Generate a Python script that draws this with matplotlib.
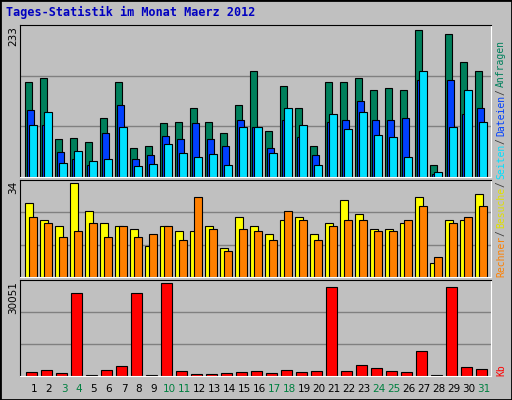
import numpy as np
import matplotlib.pyplot as plt

days = list(range(1, 32))
weekend = [3, 4, 10, 11, 17, 18, 24, 25, 31]
anfragen = [146, 151, 59, 60, 54, 91, 146, 44, 48, 83, 85, 106, 85, 68, 111, 162, 70,
            139, 106, 47, 145, 145, 151, 133, 136, 133, 226, 19, 219, 176, 163]
dateien = [102, 79, 39, 27, 19, 68, 110, 28, 33, 63, 59, 83, 59, 47, 87, 76, 45,
           87, 62, 33, 85, 88, 116, 87, 88, 90, 148, 5, 148, 96, 106]
seiten = [79, 100, 22, 40, 25, 28, 76, 17, 20, 51, 37, 30, 36, 19, 77, 77, 37,
          106, 79, 19, 97, 74, 99, 65, 62, 30, 162, 7, 76, 133, 85]
besuche = [26, 20, 18, 33, 23, 19, 18, 17, 11, 18, 16, 16, 18, 10, 21, 18, 15,
           20, 21, 15, 19, 27, 22, 17, 17, 19, 28, 5, 20, 20, 29]
rechner = [21, 19, 14, 16, 19, 14, 18, 14, 15, 18, 13, 28, 17, 9, 17, 16, 13,
           23, 20, 13, 18, 20, 20, 16, 16, 20, 25, 7, 19, 21, 25]
kb = [1376, 2010, 1058, 26133, 300, 2010, 3280, 26133, 300, 28990, 1693, 740, 740, 1058, 1376, 1693, 1058,
      2010, 1376, 1693, 27720, 1693, 3597, 2645, 1693, 1376, 7723, 300, 27720, 2962, 2328]
max_top, max_mid, max_kb = 233, 34, 30051

bg = '#C0C0C0'
fig = plt.figure(figsize=(5.12, 4.0), dpi=100, facecolor=bg)
W, H = 512, 400
x = np.array(days, dtype=float)
xl = (1 - 5 / 15, 1 + 466 / 15)

def panel(top, bottom, ymax):
    ax = fig.add_axes([20 / W, 1 - bottom / H, 471 / W, (bottom - top) / H])
    ax.set_facecolor(bg)
    ax.set_xlim(*xl)
    ax.set_ylim(0, ymax * 1.0)
    ax.set_xticks([])
    ax.set_yticks([])
    for v in (ymax / 3, 2 * ymax / 3):
        ax.axhline(v, color='#808080', lw=1, zorder=0)
    for s in ax.spines.values():
        s.set_color('black')
    ax.spines['bottom'].set_color('white')
    ax.spines['right'].set_color('white')
    return ax

kw = dict(align='edge', edgecolor='black', linewidth=0.8)
ax1 = panel(25, 177, max_top)
ax1.bar(x, anfragen, 0.47, color='#00805C', **kw)
ax1.bar(x + 0.13, dateien, 0.47, color='#0040FF', **kw)
ax1.bar(x + 0.27, seiten, 0.5, color='#00E0FF', **kw)

ax2 = panel(180, 277, max_mid)
ax2.bar(x, besuche, 0.53, color='#FFFF00', **kw)
ax2.bar(x + 0.27, rechner, 0.5, color='#FF8000', **kw)

ax3 = panel(280, 376, max_kb)
ax3.bar(x + 0.07, kb, 0.7, color='#FF0000', **kw)

for d in days:
    fig.text((20 + (d + 0.6 - xl[0]) * 15) / W, 1 - 389 / H, str(d), ha='center', va='center',
             fontsize=7.5, color='#008040' if d in weekend else 'black')

fig.text(6 / W, 1 - 12 / H, 'Tages-Statistik im Monat Maerz 2012', fontsize=8.5, fontweight='bold',
         family='DejaVu Sans Mono', color='#0000C0', va='center')
for y, t in ((26, '233'), (181, '34'), (281, '30051')):
    fig.text(13 / W, 1 - y / H, t, rotation=90, ha='center', va='top', fontsize=7.5)

# right side legend, bottom to top
parts = [('Kb', '#FF0000', 376), ('Rechner', '#FF8000', 277), ('/', '#404040', None),
         ('Besuche', '#E0E000', None), ('/', '#404040', None), ('Seiten', '#00E0FF', None),
         ('/', '#404040', None), ('Dateien', '#0040FF', None), ('/', '#404040', None),
         ('Anfragen', '#00805C', None)]
cw = 5.6
ypos = 277
for t, c, y0 in parts:
    if y0 is not None:
        ypos = y0
    if t == '/':
        ypos -= 2
    fig.text(501 / W, 1 - ypos / H, t, rotation=90, ha='center', va='bottom', fontsize=7,
             family='DejaVu Sans Mono', color=c)
    ypos -= len(t) * cw + (2 if t == '/' else 0)

# outer border
fig.add_artist(plt.Rectangle((0, 0), 1, 1, transform=fig.transFigure, fill=False,
                             edgecolor='black', linewidth=2))
fig.savefig('out.png', dpi=100, facecolor=bg)
